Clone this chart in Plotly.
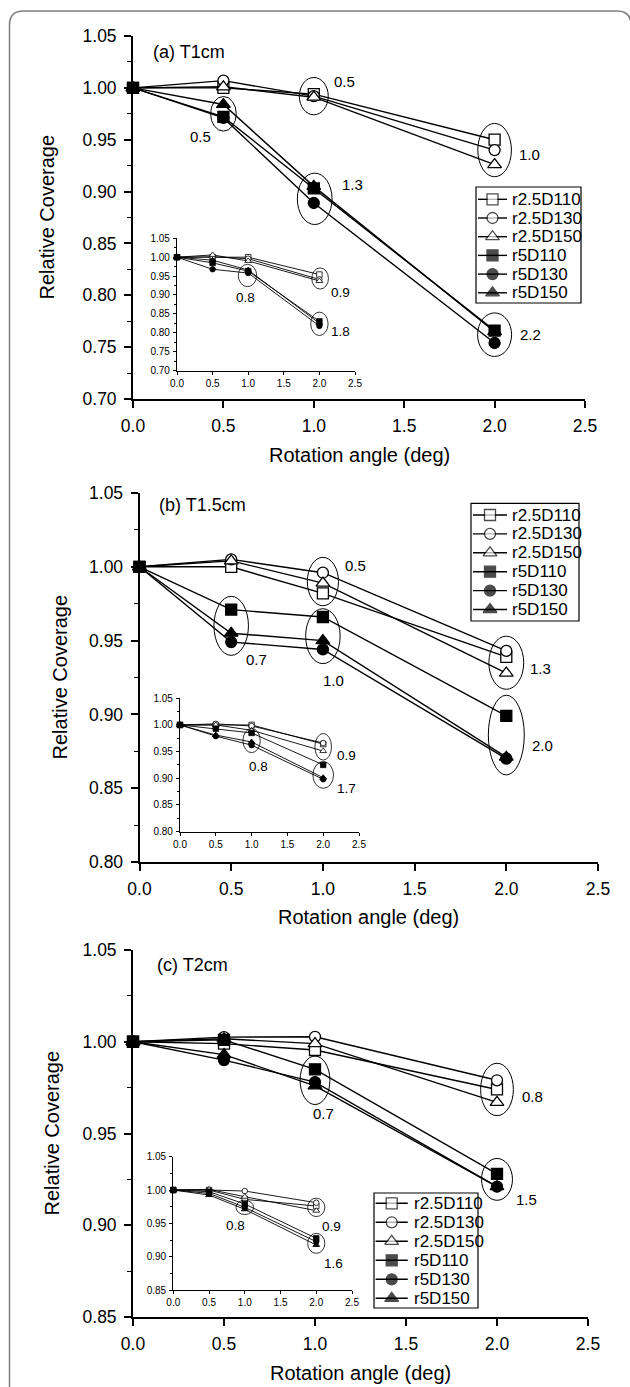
import numpy as np
import plotly.graph_objects as go

W, H = 630, 1387
FONT = "Liberation Sans, Arial, sans-serif"


def fx(p):
    return p / W


def fy(p):
    return 1 - p / H


# ---------------- data ----------------
x_angle = [0.0, 0.5, 1.0, 2.0]
series = ["r2.5D110", "r2.5D130", "r2.5D150", "r5D110", "r5D130", "r5D150"]
symbols = ["square", "circle", "triangle-up", "square", "circle", "triangle-up"]
fills = ["white", "white", "white", "black", "black", "black"]

# (a) T1cm
a_main = [
    [1.000, 1.000, 0.994, 0.950],
    [1.000, 1.007, 0.992, 0.940],
    [1.000, 1.001, 0.991, 0.926],
    [1.000, 0.972, 0.903, 0.766],
    [1.000, 0.971, 0.889, 0.754],
    [1.000, 0.984, 0.905, 0.765],
]
a_inset = [
    [1.000, 1.000, 1.000, 0.954],
    [1.000, 1.001, 0.996, 0.941],
    [1.000, 1.006, 0.990, 0.937],
    [1.000, 0.985, 0.963, 0.830],
    [1.000, 0.968, 0.958, 0.818],
    [1.000, 0.992, 0.966, 0.825],
]
# (b) T1.5cm
b_main = [
    [1.000, 1.000, 0.982, 0.939],
    [1.000, 1.005, 0.996, 0.943],
    [1.000, 1.004, 0.989, 0.928],
    [1.000, 0.971, 0.966, 0.899],
    [1.000, 0.949, 0.944, 0.870],
    [1.000, 0.955, 0.950, 0.871],
]
b_inset = [
    [1.000, 1.000, 1.000, 0.964],
    [1.000, 1.002, 0.998, 0.966],
    [1.000, 1.000, 0.990, 0.951],
    [1.000, 0.993, 0.985, 0.925],
    [1.000, 0.979, 0.962, 0.898],
    [1.000, 0.981, 0.968, 0.901],
]
# (c) T2cm
c_main = [
    [1.000, 0.999, 0.9955, 0.974],
    [1.000, 1.0025, 1.0027, 0.979],
    [1.000, 1.0016, 0.999, 0.967],
    [1.000, 1.001, 0.985, 0.928],
    [1.000, 0.990, 0.978, 0.921],
    [1.000, 0.993, 0.976, 0.921],
]
c_inset = [
    [1.000, 1.000, 0.986, 0.976],
    [1.000, 1.000, 0.9985, 0.981],
    [1.000, 1.001, 0.990, 0.969],
    [1.000, 0.9975, 0.979, 0.9275],
    [1.000, 0.995, 0.974, 0.9225],
    [1.000, 0.9925, 0.971, 0.9175],
]

# ellipses: (center x, center y, half-width, half-height) and their labels
a_main_ell = [(0.5, 0.975, 0.071, 0.0167), (1.0, 0.992, 0.08, 0.018), (2.0, 0.940, 0.093, 0.0257),
              (1.005, 0.893, 0.096, 0.0248), (2.0, 0.762, 0.094, 0.021)]
a_main_lab = [("0.5", 0.376, 0.953), ("0.5", 1.17, 1.006), ("1.0", 2.193, 0.936),
              ("1.3", 1.214, 0.907), ("2.2", 2.2, 0.762)]
a_inset_ell = [(0.99, 0.9515, 0.129, 0.0295), (2.01, 0.9436, 0.117, 0.028), (2.0, 0.8236, 0.122, 0.031)]
a_inset_lab = [("0.8", 0.96, 0.892), ("0.9", 2.30, 0.906), ("1.8", 2.30, 0.804)]

b_main_ell = [(1.0, 0.990, 0.085, 0.0164), (0.5, 0.960, 0.094, 0.020), (1.0, 0.953, 0.094, 0.0186),
              (2.0, 0.935, 0.095, 0.018), (2.0, 0.886, 0.098, 0.027)]
b_main_lab = [("0.5", 1.175, 1.001), ("0.7", 0.636, 0.9375), ("1.0", 1.06, 0.923),
              ("1.3", 2.185, 0.931), ("2.0", 2.2, 0.879)]
b_inset_ell = [(1.0, 0.9707, 0.121, 0.0227), (2.0, 0.959, 0.116, 0.025), (2.0, 0.906, 0.144, 0.025)]
b_inset_lab = [("0.8", 1.09, 0.9215), ("0.9", 2.33, 0.943), ("1.7", 2.32, 0.881)]

c_main_ell = [(1.0, 0.979, 0.082, 0.0132), (2.0, 0.974, 0.09, 0.0143), (2.0, 0.925, 0.085, 0.0114)]
c_main_lab = [("0.7", 1.045, 0.961), ("0.8", 2.196, 0.970), ("1.5", 2.16, 0.914)]
c_inset_ell = [(1.0, 0.974, 0.123, 0.0108), (2.0, 0.974, 0.12, 0.0138), (2.0, 0.92, 0.12, 0.015)]
c_inset_lab = [("0.8", 0.875, 0.9475), ("0.9", 2.21, 0.946), ("1.6", 2.24, 0.89)]

x_ticks = [0.0, 0.5, 1.0, 1.5, 2.0, 2.5]
panel_titles = ["(a) T1cm", "(b) T1.5cm", "(c) T2cm"]
x_title = "Rotation angle (deg)"
y_title = "Relative Coverage"

# ---------------- layout geometry (pixels) ----------------
panels = [
    dict(main=a_main, inset=a_inset, mell=a_main_ell, mlab=a_main_lab, iell=a_inset_ell, ilab=a_inset_lab,
         ax=("x", "y"), iax=("x2", "y2"), lax=("x7", "y7"),
         mpx=(133, 585, 36, 399), yr=(0.70, 1.05),
         ipx=(177, 355, 238.3, 370.5), iyr=(0.70, 1.05),
         lpx=(476, 581, 187, 303), lrow=(12.3, 18.7), lsamp=(2, 31, 16.5, 33.5),
         title_px=(150.7, 51.7), ytitle_x=46, xtitle_y=455),
    dict(main=b_main, inset=b_inset, mell=b_main_ell, mlab=b_main_lab, iell=b_inset_ell, ilab=b_inset_lab,
         ax=("x3", "y3"), iax=("x4", "y4"), lax=("x8", "y8"),
         mpx=(139.5, 598, 493, 862), yr=(0.80, 1.05),
         ipx=(180, 359, 698.3, 831.5), iyr=(0.80, 1.05),
         lpx=(471, 579, 503.3, 621), lrow=(11.7, 18.9), lsamp=(2, 36, 19, 39),
         title_px=(156.7, 505), ytitle_x=59, xtitle_y=917),
    dict(main=c_main, inset=c_inset, mell=c_main_ell, mlab=c_main_lab, iell=c_inset_ell, ilab=c_inset_lab,
         ax=("x5", "y5"), iax=("x6", "y6"), lax=("x9", "y9"),
         mpx=(133, 588, 950, 1317), yr=(0.85, 1.05),
         ipx=(173.3, 352, 1156.7, 1290), iyr=(0.85, 1.05),
         lpx=(374, 478, 1193, 1308), lrow=(10.3, 19.0), lsamp=(1.6, 33.8, 17.7, 37.8),
         title_px=(154.7, 965), ytitle_x=51, xtitle_y=1373),
]


def akey(a):
    return ("xaxis" if a[0] == "x" else "yaxis") + a[1:]


fig = go.Figure()
layout = dict(width=W, height=H, margin=dict(l=0, r=0, t=0, b=0, autoexpand=False),
              paper_bgcolor="white", plot_bgcolor="rgba(0,0,0,0)", showlegend=False,
              font=dict(family=FONT, color="black"))
shapes = []
annotations = []

for idx, p in enumerate(panels):
    x0, x1, yt, yb = p["mpx"]
    xa, ya = p["ax"]
    yvals = [round(v, 2) for v in np.arange(p["yr"][0], p["yr"][1] + 1e-9, 0.05)]
    layout[akey(xa)] = dict(domain=[fx(x0), fx(x1)], range=[0, 2.5], anchor=ya,
                            tickvals=x_ticks, ticktext=[f"{v:.1f}" for v in x_ticks],
                            ticks="outside", ticklen=7, tickwidth=1.6, showline=True, linewidth=1.8,
                            linecolor="black", tickcolor="black", showgrid=False, zeroline=False,
                            tickfont=dict(size=17.5, family=FONT), ticklabelstandoff=3, fixedrange=True)
    layout[akey(ya)] = dict(domain=[fy(yb), fy(yt)], range=list(p["yr"]), anchor=xa,
                            tickvals=yvals, ticktext=[f"{v:.2f}" for v in yvals],
                            ticks="outside", ticklen=7, tickwidth=1.6, showline=True, linewidth=1.8,
                            linecolor="black", tickcolor="black", showgrid=False, zeroline=False,
                            tickfont=dict(size=17.5, family=FONT), ticklabelstandoff=4,
                            minor=dict(dtick=0.025, tick0=0, ticks="outside", ticklen=4,
                                       tickwidth=1.2, tickcolor="black", showgrid=False),
                            fixedrange=True)
    # inset axes
    ix0, ix1, iyt, iyb = p["ipx"]
    ixa, iya = p["iax"]
    ivals = [round(v, 2) for v in np.arange(p["iyr"][0], p["iyr"][1] + 1e-9, 0.05)]
    layout[akey(ixa)] = dict(domain=[fx(ix0), fx(ix1)], range=[0, 2.5], anchor=iya,
                             tickvals=x_ticks, ticktext=[f"{v:.1f}" for v in x_ticks],
                             ticks="outside", ticklen=3, tickwidth=1, showline=True, linewidth=1.2,
                             linecolor="black", tickcolor="black", showgrid=False, zeroline=False,
                             tickfont=dict(size=10, family=FONT), ticklabelstandoff=0, fixedrange=True)
    layout[akey(iya)] = dict(domain=[fy(iyb), fy(iyt)], range=list(p["iyr"]), anchor=ixa,
                             tickvals=ivals, ticktext=[f"{v:.2f}" for v in ivals],
                             ticks="outside", ticklen=3, tickwidth=1, showline=True, linewidth=1.2,
                             linecolor="black", tickcolor="black", showgrid=False, zeroline=False,
                             tickfont=dict(size=10, family=FONT), ticklabelstandoff=1,
                             minor=dict(dtick=0.025, tick0=0, ticks="outside", ticklen=2,
                                        tickwidth=0.8, tickcolor="black", showgrid=False),
                             fixedrange=True)
    # legend axes (box coordinates in pixels relative to the box)
    lx0, lx1, lyt, lyb = p["lpx"]
    lxa, lya = p["lax"]
    layout[akey(lxa)] = dict(domain=[fx(lx0), fx(lx1)], range=[0, lx1 - lx0], anchor=lya,
                             visible=False, fixedrange=True)
    layout[akey(lya)] = dict(domain=[fy(lyb), fy(lyt)], range=[lyb - lyt, 0], anchor=lxa,
                             visible=False, fixedrange=True)
    shapes.append(dict(type="rect", xref=f"{lxa} domain", yref=f"{lya} domain",
                       x0=0, x1=1, y0=0, y1=1, line=dict(color="black", width=1.2)))

    # data traces
    for i, name in enumerate(series):
        fig.add_trace(go.Scatter(x=x_angle, y=p["main"][i], mode="lines+markers", name=name,
                                 xaxis=xa, yaxis=ya, cliponaxis=False,
                                 line=dict(color="black", width=1.4),
                                 marker=dict(symbol=symbols[i], color=fills[i],
                                             size=12 if "triangle" in symbols[i] else 11,
                                             line=dict(color="black", width=1.3))))
        fig.add_trace(go.Scatter(x=x_angle, y=p["inset"][i], mode="lines+markers", name=name,
                                 xaxis=ixa, yaxis=iya, cliponaxis=False,
                                 line=dict(color="black", width=0.9),
                                 marker=dict(symbol=symbols[i], color=fills[i],
                                             size=6 if "triangle" in symbols[i] else 5.5,
                                             line=dict(color="black", width=0.8))))
        # legend entry
        r0, dr = p["lrow"]
        s0, s1, sm, st = p["lsamp"]
        yy = r0 + dr * i
        fig.add_trace(go.Scatter(x=[s0, sm, s1], y=[yy, yy, yy], mode="lines+markers",
                                 xaxis=lxa, yaxis=lya, cliponaxis=False, hoverinfo="skip",
                                 line=dict(color="black", width=1.4),
                                 marker=dict(symbol=symbols[i], color=fills[i],
                                             size=[0, 12 if "triangle" in symbols[i] else 11, 0],
                                             line=dict(color="black", width=[0, 1.3, 0]))))
        annotations.append(dict(x=st, y=yy, xref=lxa, yref=lya, text=name, showarrow=False,
                                xanchor="left", yanchor="middle",
                                font=dict(size=17, family=FONT, color="black")))

    # ellipses
    for (cx, cy, rx, ry) in p["mell"]:
        shapes.append(dict(type="circle", xref=xa, yref=ya, x0=cx - rx, x1=cx + rx,
                           y0=cy - ry, y1=cy + ry, line=dict(color="black", width=1)))
    for (cx, cy, rx, ry) in p["iell"]:
        shapes.append(dict(type="circle", xref=ixa, yref=iya, x0=cx - rx, x1=cx + rx,
                           y0=cy - ry, y1=cy + ry, line=dict(color="black", width=0.8)))
    for (t, lx, ly) in p["mlab"]:
        annotations.append(dict(x=lx, y=ly, xref=xa, yref=ya, text=t, showarrow=False,
                                font=dict(size=15, family=FONT, color="black")))
    for (t, lx, ly) in p["ilab"]:
        annotations.append(dict(x=lx, y=ly, xref=ixa, yref=iya, text=t, showarrow=False,
                                font=dict(size=13.5, family=FONT, color="black")))

    # titles
    tx, ty = p["title_px"]
    annotations.append(dict(x=fx(tx), y=fy(ty), xref="paper", yref="paper", text=panel_titles[idx],
                            showarrow=False, xanchor="left", yanchor="middle",
                            font=dict(size=18, family=FONT, color="black")))
    annotations.append(dict(x=fx(p["ytitle_x"]), y=fy((yt + yb) / 2), xref="paper", yref="paper",
                            text=y_title, textangle=-90, showarrow=False,
                            xanchor="center", yanchor="middle",
                            font=dict(size=20, family=FONT, color="black")))
    annotations.append(dict(x=fx((x0 + x1) / 2), y=fy(p["xtitle_y"]), xref="paper", yref="paper",
                            text=x_title, showarrow=False, xanchor="center", yanchor="middle",
                            font=dict(size=20, family=FONT, color="black")))

# outer rounded frame (left, top, right-corner)
bx0, bx1, by0, by1, r = 9.5, 631, 11, 1400, 14
path = (f"M {fx(bx0)},{fy(by1)} L {fx(bx0)},{fy(by0 + r)} "
        f"Q {fx(bx0)},{fy(by0)} {fx(bx0 + r)},{fy(by0)} "
        f"L {fx(bx1 - r)},{fy(by0)} Q {fx(bx1)},{fy(by0)} {fx(bx1)},{fy(by0 + r)} "
        f"L {fx(bx1)},{fy(by1)}")
shapes.append(dict(type="path", xref="paper", yref="paper", path=path,
                   line=dict(color="#7f7f7f", width=1.5)))

layout["shapes"] = shapes
layout["annotations"] = annotations
fig.update_layout(**layout)
fig.write_html("out.html", config={"displayModeBar": False},
               post_script="document.body.style.margin='0';document.body.style.overflow='hidden';")
